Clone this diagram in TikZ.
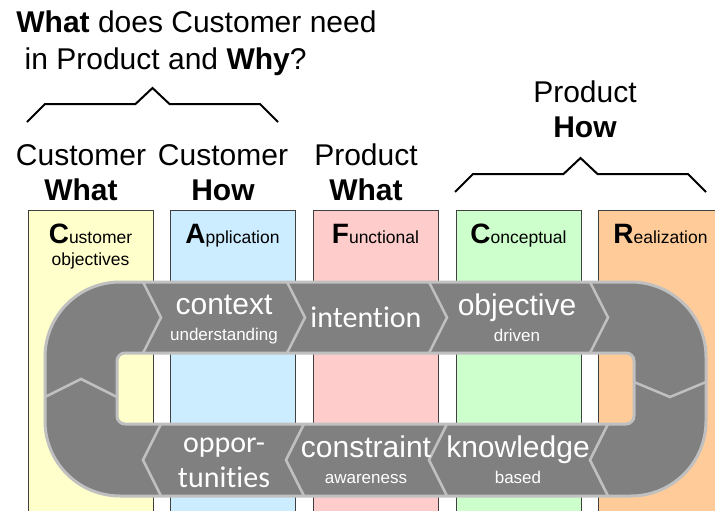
\documentclass[tikz,border=0pt]{standalone}
\usepackage{fontspec}
\setmainfont{Liberation Sans}
\newfontfamily\calibfont[Ligatures=NoCommon]{Carlito}
\usetikzlibrary{positioning}

\definecolor{custyellow}{HTML}{FFFFCC}
\definecolor{applblue}{HTML}{CCECFF}
\definecolor{funcpink}{HTML}{FFCCCC}
\definecolor{concgreen}{HTML}{CCFFCC}
\definecolor{realorange}{HTML}{FFCC99}
\definecolor{loopgray}{HTML}{808080}
\definecolor{loopedge}{HTML}{C0C0C0}

\newcommand\bigfirst[1]{{\fontsize{28}{28}\selectfont\bfseries #1}}
\newcommand\seghead[1]{{\fontsize{30}{30}\selectfont #1}}

\tikzset{
  column/.style={draw=black!75, line width=0.8pt, anchor=north west,
    minimum width=125pt, minimum height=330pt, inner sep=0pt},
  colhead/.style={anchor=base, align=center, inner sep=0pt,
    font=\fontsize{17.5}{22}\selectfont},
  head/.style={anchor=base, align=center, inner sep=0pt,
    font=\fontsize{30}{35}\selectfont},
  seg/.style={anchor=base, align=center, inner sep=0pt, text=white,
    font=\fontsize{17}{26}\selectfont},
  divider/.style={draw=loopedge, line width=2.5pt},
}

\begin{document}
\begin{tikzpicture}[x=1pt,y=-1pt,thick]
  \useasboundingbox (0,0) rectangle (715,511);

  % Columns (header text sits on the baseline of its last line)
  \foreach \name/\x/\by/\colr/\txt in {
    cust/28/265/custyellow/{\bigfirst{C}ustomer\\objectives},
    appl/170/243/applblue/{\bigfirst{A}pplication},
    func/313/243/funcpink/{\bigfirst{F}unctional},
    conc/456/243/concgreen/{\bigfirst{C}onceptual},
    real/598/243/realorange/{\bigfirst{R}ealization}}
  {
    \node[column, fill=\colr] (\name) at (\x,210) {};
    \node[colhead] (\name-h) at (\x+62.5,\by) {\txt};
  }

  % Loop
  \path[draw=loopedge, line width=3pt, fill=loopgray, even odd rule, rounded corners=75pt]
    (45,282) rectangle (706,496) [rounded corners=8pt] (117,353) rectangle (634,424);
  \foreach \x in {143,287,429,590}
    \draw[divider] (\x,282) -- (\x+18,317.5) -- (\x,353);
  \foreach \x in {143,286,429,590}
    \draw[divider] (\x+18,424) -- (\x,460) -- (\x+18,496);
  \draw[divider] (45,397) -- (81,379) -- (117,397);
  \draw[divider] (634,382) -- (670,397) -- (706,382);

  % Segments
  \node[seg] (context) at (224,340) {\seghead{context}\\understanding};
  \node[seg, font=\calibfont\fontsize{30}{35}\selectfont] (intent) at (366,327) {intention};
  \node[seg] (objective) at (517,341) {\seghead{objective}\\driven};
  \node[seg, font=\calibfont\fontsize{30}{35}\selectfont] (opport) at (224,487) {oppor-\\tunities};
  \node[seg] (constraint) at (366,483) {\seghead{constraint}\\awareness};
  \node[seg] (knowledge) at (518,483) {\seghead{knowledge}\\based};

  % Headers
  \node[head, anchor=base west, align=left, font=\fontsize{30}{37}\selectfont] (question) at (16,70)
    {\textbf{What} does Customer need\\~in Product and \textbf{Why}?};
  \node[head] (custwhat) at (81,200) {Customer\\\textbf{What}};
  \node[head] (custhow) at (223,200) {Customer\\\textbf{How}};
  \node[head] (prodwhat) at (366,200) {Product\\\textbf{What}};
  \node[head] (prodhow) at (585,137) {Product\\\textbf{How}};

  % Braces
  \foreach \cx/\by in {152.5/122, 580.5/192}
    \draw[line width=2pt] (\cx-125.5,\by) -- ++(18,-18) -- (\cx-17,\by-18) -- (\cx,\by-34)
      -- (\cx+17,\by-18) -- (\cx+107.5,\by-18) -- ++(18,18);

\end{tikzpicture}
\end{document}
